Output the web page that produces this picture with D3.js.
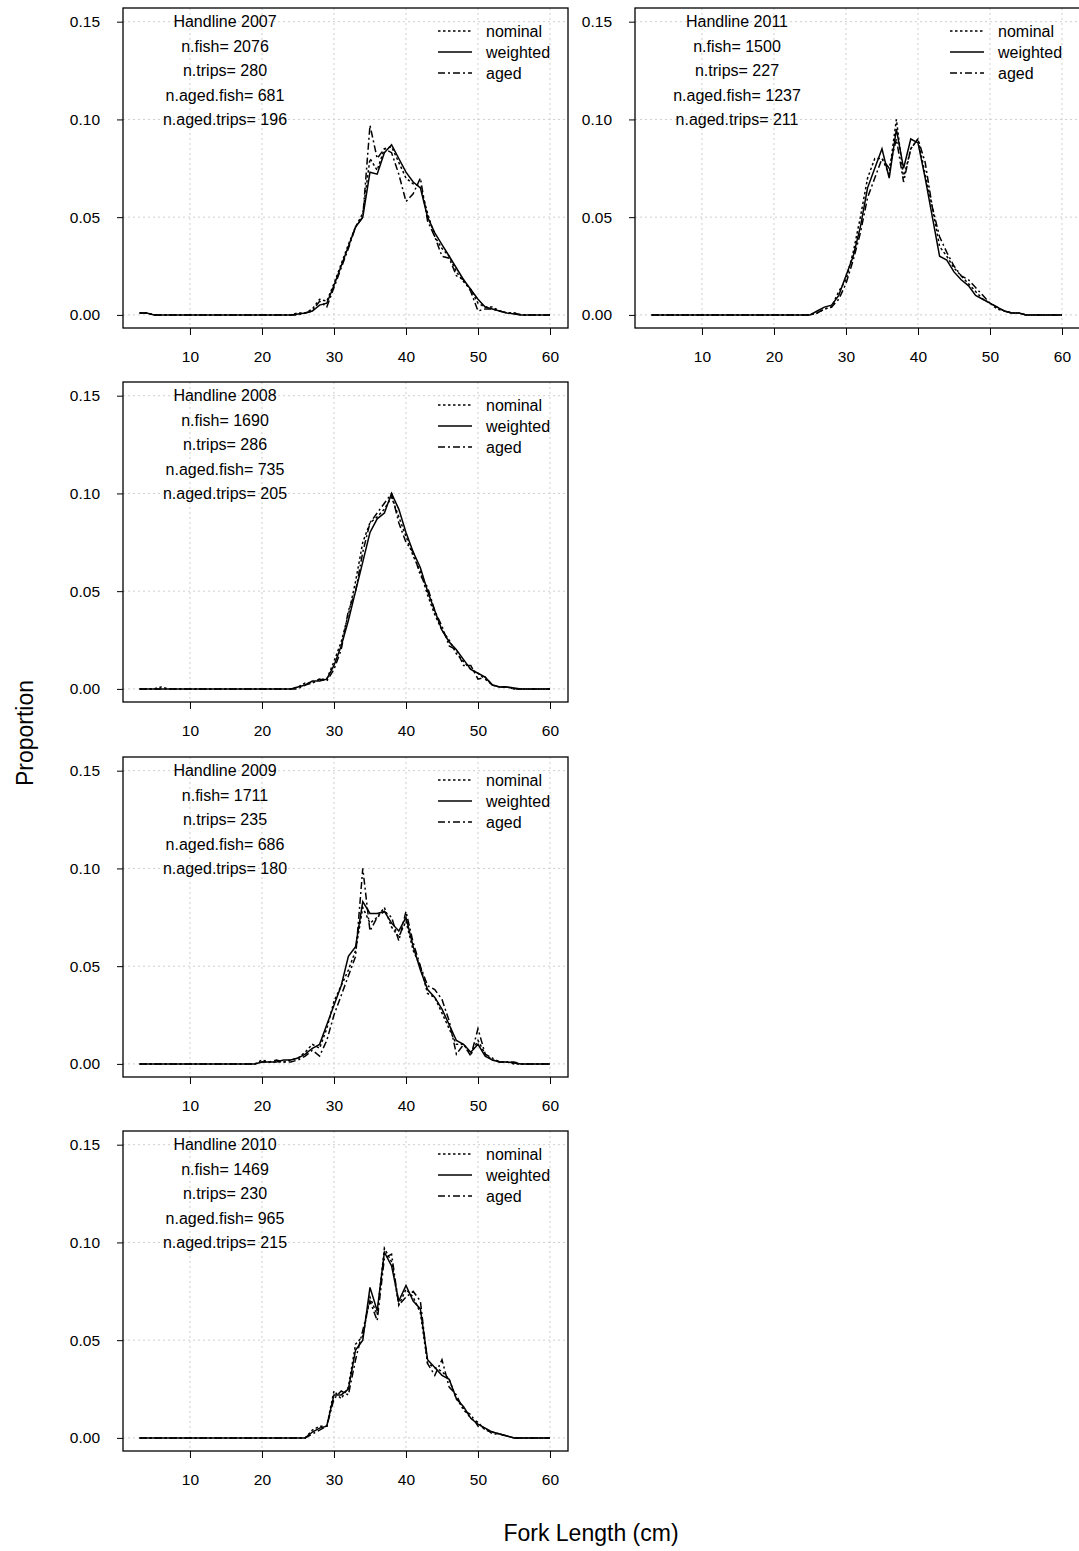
<!DOCTYPE html>
<html><head><meta charset="utf-8">
<script src="https://cdn.jsdelivr.net/npm/d3@7"></script>
<style>body{margin:0;background:#fff}text{font-family:"Liberation Sans",Arial,sans-serif}</style>
</head><body><svg id="c" width="1079" height="1551"></svg>
<script>
// fork length bins (cm)
const lengths = [3,4,5,6,7,8,9,10,11,12,13,14,15,16,17,18,19,20,21,22,23,24,25,26,27,28,29,30,31,32,33,34,35,36,37,38,39,40,41,42,43,44,45,46,47,48,49,50,51,52,53,54,55,56,57,58,59,60];
const yTicks = [0, 0.05, 0.10, 0.15];
const xTicks = [10, 20, 30, 40, 50, 60];
const seriesNames = ["nominal", "weighted", "aged"];

// 2007
const w2007 = [.001,.001,0,0,0,0,0,0,0,0,0,0,0,0,0,0,0,0,0,0,0,0,.0005,.001,.002,.005,.006,.015,.025,.035,.045,.05,.073,.072,.083,.087,.08,.073,.068,.065,.05,.042,.036,.03,.024,.018,.013,.008,.004,.003,.002,.001,.0005,0,0,0,0,0];
const n2007 = [.001,.001,0,0,0,0,0,0,0,0,0,0,0,0,0,0,0,0,0,0,0,0,.001,.001,.003,.008,.007,.016,.026,.036,.045,.052,.08,.074,.085,.086,.078,.07,.067,.066,.052,.04,.034,.03,.022,.017,.013,.006,.004,.004,.002,.001,.001,0,0,0,0,0];
const a2007 = [.001,.001,0,0,0,0,0,0,0,0,0,0,0,0,0,0,0,0,0,0,0,0,0,.001,.002,.007,.004,.014,.024,.034,.045,.05,.097,.08,.085,.083,.072,.058,.062,.07,.048,.04,.03,.029,.02,.018,.012,.002,.003,.003,.002,.001,.001,0,0,0,0,0];
// 2008
const w2008 = [0,0,0,0,0,0,0,0,0,0,0,0,0,0,0,0,0,0,0,0,0,0,.001,.002,.004,.004,.005,.012,.022,.035,.05,.065,.08,.087,.09,.1,.092,.08,.07,.062,.05,.04,.03,.024,.02,.015,.01,.008,.006,.002,.001,.001,.0005,0,0,0,0,0];
const n2008 = [0,0,0,.001,0,0,0,0,0,0,0,0,0,0,0,0,0,0,0,0,0,0,.001,.003,.003,.005,.005,.014,.024,.038,.055,.075,.085,.088,.092,.098,.088,.078,.068,.06,.048,.038,.03,.025,.018,.014,.01,.008,.005,.002,.001,.001,0,0,0,0,0,0];
const a2008 = [0,0,0,0,0,0,0,0,0,0,0,0,0,0,0,0,0,0,0,0,0,0,0,.002,.003,.005,.004,.01,.02,.04,.05,.07,.085,.09,.095,.1,.085,.075,.07,.058,.052,.04,.032,.022,.02,.012,.012,.005,.006,.002,.001,.001,0,0,0,0,0,0];
// 2009
const w2009 = [0,0,0,0,0,0,0,0,0,0,0,0,0,0,0,0,0,.001,.001,.001,.002,.002,.003,.005,.008,.01,.02,.03,.04,.055,.06,.083,.077,.077,.078,.072,.068,.075,.06,.048,.038,.034,.028,.02,.012,.01,.006,.01,.004,.002,.001,.001,.0005,0,0,0,0,0];
const n2009 = [0,0,0,0,0,0,0,0,0,0,0,0,0,0,0,0,0,.002,.001,.001,.001,.002,.003,.006,.01,.008,.018,.032,.04,.048,.058,.08,.072,.075,.08,.07,.065,.073,.058,.05,.036,.034,.026,.018,.01,.01,.005,.012,.005,.002,.001,.001,0,0,0,0,0,0];
const a2009 = [0,0,0,0,0,0,0,0,0,0,0,0,0,0,0,0,0,.001,.001,.002,.001,.001,.002,.004,.007,.004,.012,.025,.035,.045,.055,.1,.068,.075,.078,.075,.063,.078,.062,.05,.04,.038,.033,.022,.005,.01,.004,.018,.005,.003,.001,.001,.001,0,0,0,0,0];
// 2010
const w2010 = [0,0,0,0,0,0,0,0,0,0,0,0,0,0,0,0,0,0,0,0,0,0,0,0,.003,.005,.006,.022,.022,.025,.045,.05,.077,.065,.095,.088,.07,.078,.07,.066,.04,.036,.032,.03,.02,.016,.01,.007,.005,.003,.002,.001,0,0,0,0,0,0];
const n2010 = [0,0,0,0,0,0,0,0,0,0,0,0,0,0,0,0,0,0,0,0,0,0,0,0,.004,.006,.006,.024,.02,.026,.048,.052,.072,.063,.097,.09,.068,.076,.072,.064,.038,.036,.034,.03,.02,.015,.01,.008,.004,.003,.002,.001,0,0,0,0,0,0];
const a2010 = [0,0,0,0,0,0,0,0,0,0,0,0,0,0,0,0,0,0,0,0,0,0,0,0,.002,.004,.006,.02,.024,.022,.04,.055,.07,.06,.092,.094,.068,.072,.075,.07,.038,.032,.04,.026,.022,.014,.012,.006,.005,.002,.002,.001,0,0,0,0,0,0];
// 2011
const w2011 = [0,0,0,0,0,0,0,0,0,0,0,0,0,0,0,0,0,0,0,0,0,0,0,.002,.004,.005,.01,.02,.03,.045,.065,.075,.085,.07,.095,.075,.09,.088,.07,.05,.03,.028,.022,.018,.015,.01,.008,.006,.004,.002,.001,.001,0,0,0,0,0,0];
const n2011 = [0,0,0,0,0,0,0,0,0,0,0,0,0,0,0,0,0,0,0,0,0,0,0,.001,.003,.004,.012,.018,.032,.05,.07,.08,.08,.072,.1,.07,.085,.09,.072,.055,.035,.03,.024,.02,.016,.012,.008,.006,.003,.002,.001,.001,0,0,0,0,0,0];
const a2011 = [0,0,0,0,0,0,0,0,0,0,0,0,0,0,0,0,0,0,0,0,0,0,0,.001,.003,.004,.008,.016,.028,.042,.06,.07,.08,.075,.09,.068,.085,.09,.078,.055,.04,.032,.025,.02,.018,.014,.01,.006,.004,.002,.001,.001,0,0,0,0,0,0];

const panels = [
  {year:2007, fish:2076, trips:280, afish:681, atrips:196, left:123, top:8, s:[n2007,w2007,a2007]},
  {year:2011, fish:1500, trips:227, afish:1237, atrips:211, left:635, top:8, s:[n2011,w2011,a2011]},
  {year:2008, fish:1690, trips:286, afish:735, atrips:205, left:123, top:382, s:[n2008,w2008,a2008]},
  {year:2009, fish:1711, trips:235, afish:686, atrips:180, left:123, top:757, s:[n2009,w2009,a2009]},
  {year:2010, fish:1469, trips:230, afish:965, atrips:215, left:123, top:1131, s:[n2010,w2010,a2010]}
];
const dashes = ["2.5,2.5", null, "7,3,2,3"];
const W = 445, H = 320;
const svg = d3.select("#c");

panels.forEach(p => {
  const g = svg.append("g").attr("transform", `translate(${p.left},${p.top})`);
  const x = d3.scaleLinear().domain([0.7, 62.5]).range([0, W]);
  const y = d3.scaleLinear().domain([-0.0067, 0.157]).range([H, 0]);

  // grid
  g.selectAll(".gx").data(xTicks).join("line")
    .attr("x1", d => x(d)).attr("x2", d => x(d)).attr("y1", 0).attr("y2", H)
    .attr("stroke", "#cfcfcf").attr("stroke-dasharray", "2,3");
  g.selectAll(".gy").data(yTicks).join("line").attr("class","gy")
    .attr("y1", d => y(d)).attr("y2", d => y(d)).attr("x1", 0).attr("x2", W)
    .attr("stroke", "#cfcfcf").attr("stroke-dasharray", "2,3");

  // axes
  const xa = g.append("g").attr("transform", `translate(0,${H})`)
    .call(d3.axisBottom(x).tickValues(xTicks).tickSize(7).tickPadding(16));
  const ya = g.append("g")
    .call(d3.axisLeft(y).tickValues(yTicks).tickFormat(d3.format(".2f")).tickSize(6).tickPadding(17));
  [xa, ya].forEach(a => {
    a.select(".domain").remove();
    a.selectAll("line").attr("stroke", "#000");
    a.selectAll("text").attr("font-size", 15.5).attr("fill", "#000")
      .style("font-family", '"Liberation Sans",Arial,sans-serif');
  });

  // series
  const line = d3.line().x((d, i) => x(lengths[i])).y(d => y(d));
  p.s.forEach((vals, k) => {
    g.append("path").datum(vals).attr("d", line).attr("fill", "none")
      .attr("stroke", "#000").attr("stroke-width", 1.5)
      .attr("stroke-dasharray", dashes[k]);
  });

  g.append("rect").attr("width", W).attr("height", H)
    .attr("fill", "none").attr("stroke", "#000").attr("stroke-width", 1.3);

  // annotation
  const info = ["Handline " + p.year, "n.fish= " + p.fish, "n.trips= " + p.trips,
    "n.aged.fish= " + p.afish, "n.aged.trips= " + p.atrips];
  g.selectAll(".info").data(info).join("text")
    .attr("x", 102).attr("y", (d, i) => 19 + i * 24.5)
    .attr("text-anchor", "middle").attr("font-size", 16).text(d => d);

  // legend
  seriesNames.forEach((nm, k) => {
    g.append("line").attr("x1", 315).attr("x2", 349)
      .attr("y1", 23 + k * 21).attr("y2", 23 + k * 21)
      .attr("stroke", "#000").attr("stroke-width", 1.5).attr("stroke-dasharray", dashes[k]);
    g.append("text").attr("x", 363).attr("y", 29 + k * 21)
      .attr("font-size", 16).text(nm);
  });
});

svg.append("text").attr("transform", "translate(33,733) rotate(-90)")
  .attr("text-anchor", "middle").attr("font-size", 23).text("Proportion");
svg.append("text").attr("x", 591).attr("y", 1541)
  .attr("text-anchor", "middle").attr("font-size", 23).text("Fork Length (cm)");
</script></body></html>
